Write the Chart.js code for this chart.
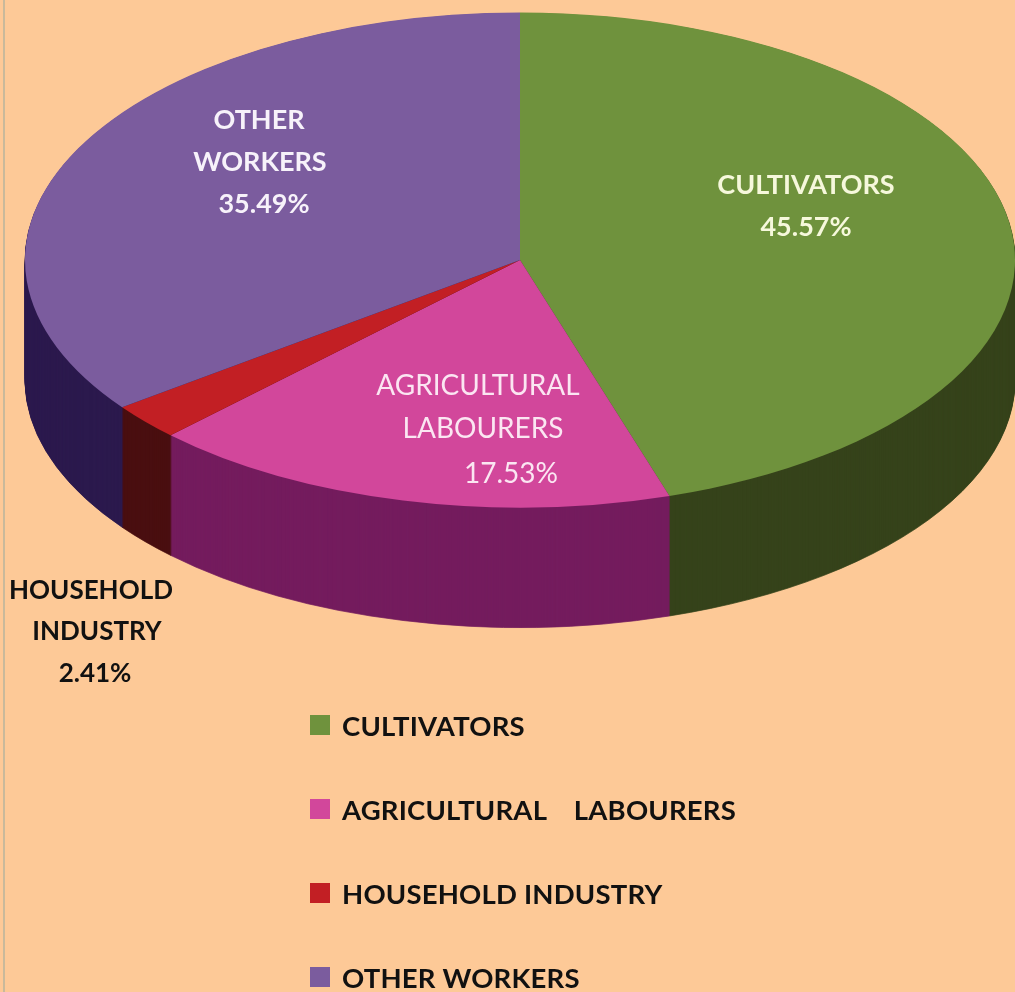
<!DOCTYPE html>
<html>
<head>
<meta charset="utf-8">
<script src="https://cdn.jsdelivr.net/npm/chart.js@4"></script>
<style>
    html, body { margin: 0; padding: 0; background: #fdc997; overflow: hidden; }
    #wrap { position: relative; width: 1015px; height: 992px; overflow: hidden; }
    #edge { position: absolute; left: 3px; top: 0; width: 2px; height: 992px; background: #c9b99b; }
    #chart { position: absolute; left: 0; top: 0; }
    #legend { position: absolute; left: 310px; top: 0; margin: 0; padding: 0; list-style: none; }
    #legend li {
        position: absolute; left: 0; white-space: pre;
        font: 700 27.5px Lato, sans-serif; color: #111; line-height: 30px; letter-spacing: 0.2px;
    }
    #legend span { position: absolute; left: 0; top: 4px; width: 20px; height: 20px; }
    #legend b { position: absolute; left: 32px; top: 0; font-weight: 700; }
</style>
</head>
<body>
<div id="wrap">
    <div id="edge"></div>
    <canvas id="chart" width="1015" height="992"></canvas>
    <ul id="legend"></ul>
</div>
<script>
const categories = ['CULTIVATORS', 'AGRICULTURAL    LABOURERS', 'HOUSEHOLD INDUSTRY', 'OTHER WORKERS'];
const shares = [45.57, 17.53, 2.41, 35.49];
const topColors = ['#6f923d', '#d2479b', '#c21f24', '#7b5c9e'];
const wallColors = ['#36431b', '#741c5e', '#4a0f10', '#2c1a4e'];

const sliceLabels = [
    ['CULTIVATORS', '45.57%'],
    ['AGRICULTURAL', 'LABOURERS', '17.53%'],
    ['HOUSEHOLD', 'INDUSTRY', '2.41%'],
    ['OTHER', 'WORKERS', '35.49%'],
];

// flatten the circle Chart.js lays out into the ellipse of the tilted pie
const TILT = 0.5;
const CENTER_Y = 260;
const DEPTH = 120;

function tilt(ctx, chart, shift) {
    const cy = (chart.chartArea.top + chart.chartArea.bottom) / 2;
    ctx.translate(0, CENTER_Y + shift);
    ctx.scale(1, TILT);
    ctx.translate(0, -cy);
}

const pie3d = {
    id: 'pie3d',
    beforeDatasetsDraw(chart) {
        const ctx = chart.ctx;
        const arcs = chart.getDatasetMeta(0).data;
        // side wall: stack the slices in their dark colour, back to front
        for (let d = DEPTH; d > 0; d--) {
            ctx.save();
            tilt(ctx, chart, d);
            arcs.forEach((arc, i) => {
                const saved = arc.options;
                arc.options = Object.assign({}, saved, {
                    backgroundColor: wallColors[i],
                    borderColor: wallColors[i],
                    borderWidth: 1,
                });
                arc.draw(ctx);
                arc.options = saved;
            });
            ctx.restore();
        }
        ctx.save();
        tilt(ctx, chart, 0);
    },
    afterDatasetsDraw(chart) {
        chart.ctx.restore();
    },
};

// one anchor per slice label: [font, colour, [centre x, baseline y] per line]
const labelStyle = [
    ['700 27px Lato, sans-serif', '#f6f8dc', [[806, 194], [806, 236]]],
    ['400 28px Lato, sans-serif', '#fbe6f2', [[478, 395], [483, 438], [511, 483]]],
    ['700 26px Lato, sans-serif', '#111111', [[91, 599], [97, 640], [95, 682]]],
    ['700 27px Lato, sans-serif', '#f7f2fa', [[259, 129], [260, 171], [264, 213]]],
];

const sliceText = {
    id: 'sliceText',
    afterDraw(chart) {
        const ctx = chart.ctx;
        ctx.save();
        ctx.textAlign = 'center';
        ctx.textBaseline = 'alphabetic';
        sliceLabels.forEach((lines, i) => {
            const [font, color, spots] = labelStyle[i];
            ctx.font = font;
            ctx.fillStyle = color;
            lines.forEach((line, j) => ctx.fillText(line, spots[j][0], spots[j][1]));
        });
        ctx.restore();
    },
};

const chart = new Chart(document.getElementById('chart'), {
    type: 'pie',
    data: {
        labels: categories,
        datasets: [{
            data: shares,
            backgroundColor: topColors,
            borderWidth: 0,
            clip: false,
        }],
    },
    options: {
        responsive: false,
        animation: false,
        events: [],
        layout: { padding: { left: 25 } },
        plugins: {
            legend: { display: false },
            tooltip: { enabled: false },
        },
    },
    plugins: [pie3d, sliceText],
});

// legend as html, the four rows sit 84px apart
const legendTops = [711, 795, 879, 963];
const legendEl = document.getElementById('legend');
chart.options.plugins.legend.labels.generateLabels(chart).forEach((item, i) => {
    const li = document.createElement('li');
    li.style.top = legendTops[i] + 'px';
    const box = document.createElement('span');
    box.style.background = item.fillStyle;
    const txt = document.createElement('b');
    txt.textContent = item.text;
    li.append(box, txt);
    legendEl.appendChild(li);
});
</script>
</body>
</html>
